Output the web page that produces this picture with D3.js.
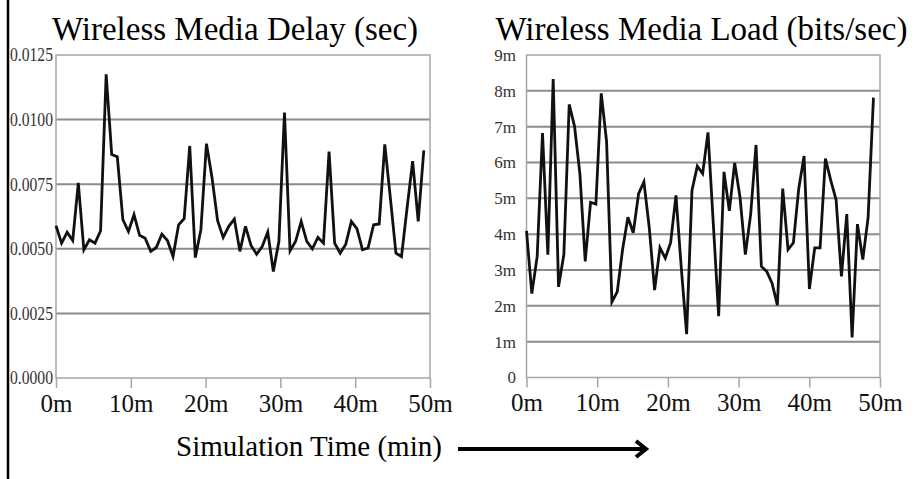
<!DOCTYPE html>
<html>
<head>
<meta charset="utf-8">
<script src="https://cdnjs.cloudflare.com/ajax/libs/d3/7.8.5/d3.min.js"></script>
<style>
  body { margin: 0; background: #fff; }
  text { font-family: "Liberation Serif", "Times New Roman", serif; }
</style>
</head>
<body>
<script>
// two panels: wireless media delay and wireless media load vs simulation time

var svgWidth = 916;
var svgHeight = 479;

// delay in seconds, one sample every ~0.75 min
var delayValues = [
  0.00589, 0.00522, 0.00564, 0.00532, 0.00755, 0.00496, 0.00535, 0.00522, 0.00570, 0.01175,
  0.00865, 0.00856, 0.00613, 0.00567, 0.00632, 0.00552, 0.00541, 0.00490, 0.00505, 0.00557,
  0.00532, 0.00470, 0.00593, 0.00617, 0.00898, 0.00466, 0.00574, 0.00907, 0.00775, 0.00609,
  0.00544, 0.00587, 0.00615, 0.00490, 0.00587, 0.00513, 0.00479, 0.00509, 0.00565, 0.00412,
  0.00529, 0.01027, 0.00492, 0.00529, 0.00606, 0.00529, 0.00500, 0.00544, 0.00522, 0.00876,
  0.00522, 0.00483, 0.00518, 0.00606, 0.00578, 0.00496, 0.00503, 0.00593, 0.00596, 0.00904,
  0.00697, 0.00483, 0.00470, 0.00658, 0.00839, 0.00606, 0.00881
];

// load in millions of bits/sec
var loadValues = [
  4.09, 2.34, 3.38, 6.82, 3.43, 8.33, 2.53, 3.43, 7.62, 7.01,
  5.69, 3.24, 4.89, 4.84, 7.93, 6.59, 2.11, 2.39, 3.57, 4.47,
  4.04, 5.13, 5.46, 4.18, 2.44, 3.62, 3.33, 3.76, 5.08, 3.05,
  1.21, 5.22, 5.90, 5.69, 6.84, 4.28, 1.71, 5.74, 4.65, 5.99,
  5.03, 3.43, 4.56, 6.49, 3.10, 2.96, 2.63, 2.02, 5.27, 3.57,
  3.76, 5.27, 6.18, 2.47, 3.62, 3.62, 6.11, 5.50, 4.96, 2.82,
  4.56, 1.12, 4.28, 3.29, 4.47, 7.81
];

var delayStep = 0.745;   // minutes between samples
var loadStep = 0.755;

var xTicks = [0, 10, 20, 30, 40, 50];
var xTickLabels = ["0m", "10m", "20m", "30m", "40m", "50m"];

var delayTicks = [0, 0.0025, 0.005, 0.0075, 0.01, 0.0125];
var delayTickLabels = ["0.0000", "0.0025", "0.0050", "0.0075", "0.0100", "0.0125"];

var loadTicks = [0, 1, 2, 3, 4, 5, 6, 7, 8, 9];
var loadTickLabels = ["0", "1m", "2m", "3m", "4m", "5m", "6m", "7m", "8m", "9m"];

var serif = "'Liberation Serif', 'Times New Roman', serif";

var svg = d3.select("body")
  .append("svg")
  .attr("width", svgWidth)
  .attr("height", svgHeight);

svg.append("rect")
  .attr("width", svgWidth)
  .attr("height", svgHeight)
  .attr("fill", "#fff");

// black rule down the left edge
svg.append("line")
  .attr("x1", 8).attr("x2", 8)
  .attr("y1", 0).attr("y2", svgHeight)
  .attr("stroke", "#000")
  .attr("stroke-width", 2.5);

function drawPanel(p) {
  var xScale = d3.scaleLinear().domain([0, 50]).range([p.left, p.right]);
  var yScale = d3.scaleLinear().domain([0, p.yMax]).range([p.bottom, p.top]);

  var g = svg.append("g");

  // gridlines
  g.selectAll(".grid")
    .data(p.yTicks.slice(1, -1))
    .enter()
    .append("line")
    .attr("x1", p.left).attr("x2", p.right)
    .attr("y1", function(d) { return yScale(d); })
    .attr("y2", function(d) { return yScale(d); })
    .attr("stroke", "#8c8c8c")
    .attr("stroke-width", 2);

  // frame
  g.append("rect")
    .attr("x", p.left).attr("y", p.top)
    .attr("width", p.right - p.left)
    .attr("height", p.bottom - p.top)
    .attr("fill", "none")
    .attr("stroke", "#a6a6a6")
    .attr("stroke-width", 1.5);

  // x axis
  var bottomAxis = d3.axisBottom(xScale)
    .tickValues(xTicks)
    .tickSize(10)
    .tickSizeOuter(0)
    .tickPadding(6)
    .tickFormat(function(d, i) { return xTickLabels[i]; });

  var xAxis = g.append("g")
    .attr("transform", "translate(0," + p.bottom + ")")
    .call(bottomAxis)
    .attr("font-family", serif);
  xAxis.select(".domain").remove();
  xAxis.selectAll(".tick line").attr("stroke", "#a6a6a6").attr("stroke-width", 1.5);
  xAxis.selectAll(".tick text")
    .attr("fill", "#111")
    .style("font-size", "25px")
    .style("font-family", serif);

  // y labels
  g.selectAll(".ylab")
    .data(p.yTicks)
    .enter()
    .append("text")
    .attr("x", p.labelX)
    .attr("y", function(d) { return yScale(d); })
    .attr("dy", "0.35em")
    .attr("text-anchor", "end")
    .attr("fill", "#333")
    .style("font-family", serif)
    .style("font-size", p.labelSize + "px")
    .attr("textLength", p.labelLength || null)
    .attr("lengthAdjust", p.labelLength ? "spacingAndGlyphs" : null)
    .text(function(d, i) { return p.yLabels[i]; });

  // series
  var line = d3.line()
    .x(function(d, i) { return xScale(i * p.step); })
    .y(function(d) { return yScale(d); });

  g.append("path")
    .datum(p.values)
    .attr("d", line)
    .attr("fill", "none")
    .attr("stroke", "#111")
    .attr("stroke-width", 2.8)
    .attr("stroke-linejoin", "miter");

  // title
  g.append("text")
    .attr("x", p.titleX)
    .attr("y", 40)
    .attr("text-anchor", "middle")
    .attr("fill", "#000")
    .style("font-family", serif)
    .style("font-size", "33px")
    .text(p.title);
}

drawPanel({
  left: 56, right: 430, top: 55, bottom: 378,
  yMax: 0.0125, yTicks: delayTicks, yLabels: delayTickLabels,
  labelX: 53, labelSize: 18, labelLength: 43,
  values: delayValues, step: delayStep,
  title: "Wireless Media Delay (sec)", titleX: 235
});

drawPanel({
  left: 526.5, right: 880, top: 55, bottom: 377.5,
  yMax: 9, yTicks: loadTicks, yLabels: loadTickLabels,
  labelX: 516, labelSize: 17,
  values: loadValues, step: loadStep,
  title: "Wireless Media Load (bits/sec)", titleX: 701.5
});

// caption with arrow
svg.append("text")
  .attr("x", 176)
  .attr("y", 456)
  .attr("fill", "#000")
  .style("font-family", serif)
  .style("font-size", "29px")
  .text("Simulation Time (min)");

svg.append("line")
  .attr("x1", 458).attr("x2", 645)
  .attr("y1", 449).attr("y2", 449)
  .attr("stroke", "#000")
  .attr("stroke-width", 4);

svg.append("path")
  .attr("d", "M636,441 L646,449 L636,457")
  .attr("fill", "none")
  .attr("stroke", "#000")
  .attr("stroke-width", 4)
  .attr("stroke-linejoin", "miter");
</script>
</body>
</html>
